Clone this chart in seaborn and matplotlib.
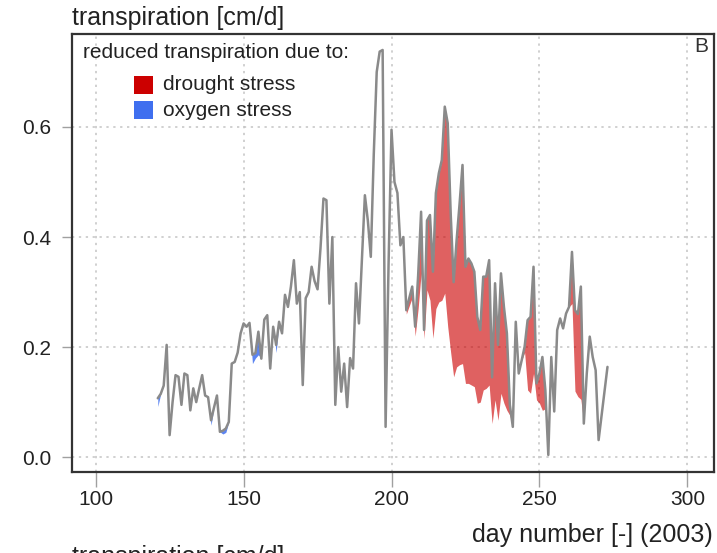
import numpy as np
import matplotlib
matplotlib.use("Agg")
import matplotlib.pyplot as plt
import seaborn as sns

# daily values, day 121 .. 273 (2003)
days = np.arange(121, 274)

# potential transpiration [cm/d] (grey line)
potential = [
    0.107, 0.115, 0.130, 0.204, 0.040, 0.100, 0.149, 0.146, 0.095, 0.152,   # 121-130
    0.149, 0.085, 0.125, 0.100, 0.125, 0.149, 0.112, 0.109, 0.067, 0.090,   # 131-140
    0.112, 0.046, 0.048, 0.052, 0.064, 0.170, 0.173, 0.190, 0.225, 0.243,   # 141-150
    0.237, 0.244, 0.186, 0.189, 0.228, 0.179, 0.250, 0.258, 0.161, 0.237,   # 151-160
    0.204, 0.246, 0.225, 0.295, 0.273, 0.310, 0.358, 0.279, 0.300, 0.131,   # 161-170
    0.289, 0.300, 0.346, 0.320, 0.305, 0.380, 0.470, 0.467, 0.279, 0.400,   # 171-180
    0.095, 0.200, 0.119, 0.170, 0.091, 0.180, 0.161, 0.316, 0.243, 0.360,   # 181-190
    0.476, 0.430, 0.364, 0.550, 0.700, 0.737, 0.740, 0.055, 0.350, 0.595,   # 191-200
    0.500, 0.480, 0.385, 0.400, 0.267, 0.289, 0.310, 0.237, 0.330, 0.446,   # 201-210
    0.231, 0.430, 0.440, 0.337, 0.480, 0.516, 0.540, 0.637, 0.607, 0.443,   # 211-220
    0.318, 0.394, 0.460, 0.531, 0.346, 0.361, 0.352, 0.337, 0.255, 0.231,   # 221-230
    0.328, 0.328, 0.358, 0.145, 0.316, 0.204, 0.334, 0.273, 0.225, 0.095,   # 231-240
    0.055, 0.246, 0.152, 0.176, 0.201, 0.249, 0.255, 0.346, 0.134, 0.152,   # 241-250
    0.182, 0.122, 0.004, 0.182, 0.083, 0.231, 0.252, 0.234, 0.261, 0.273,   # 251-260
    0.373, 0.267, 0.260, 0.310, 0.061, 0.152, 0.219, 0.182, 0.158, 0.031,   # 261-270
    0.075, 0.120, 0.164,                                                     # 271-273
]

# actual transpiration [cm/d]
actual = [
    0.092, 0.115, 0.130, 0.204, 0.040, 0.100, 0.149, 0.146, 0.095, 0.152,
    0.149, 0.085, 0.125, 0.100, 0.125, 0.149, 0.112, 0.109, 0.058, 0.090,
    0.112, 0.046, 0.042, 0.045, 0.064, 0.170, 0.173, 0.190, 0.225, 0.243,
    0.237, 0.244, 0.170, 0.180, 0.186, 0.179, 0.250, 0.258, 0.161, 0.237,
    0.190, 0.246, 0.225, 0.295, 0.273, 0.310, 0.358, 0.279, 0.300, 0.131,
    0.289, 0.300, 0.346, 0.320, 0.305, 0.380, 0.470, 0.467, 0.279, 0.400,
    0.095, 0.200, 0.119, 0.170, 0.091, 0.180, 0.161, 0.316, 0.243, 0.360,
    0.476, 0.430, 0.364, 0.550, 0.700, 0.737, 0.740, 0.055, 0.350, 0.595,
    0.500, 0.480, 0.385, 0.400, 0.260, 0.275, 0.290, 0.220, 0.270, 0.334,
    0.215, 0.304, 0.285, 0.216, 0.270, 0.282, 0.285, 0.298, 0.237, 0.190,
    0.146, 0.164, 0.168, 0.170, 0.134, 0.134, 0.131, 0.128, 0.098, 0.100,
    0.122, 0.125, 0.131, 0.061, 0.104, 0.067, 0.116, 0.098, 0.085, 0.076,
    0.055, 0.246, 0.152, 0.176, 0.190, 0.122, 0.116, 0.152, 0.104, 0.098,
    0.085, 0.088, 0.004, 0.182, 0.083, 0.231, 0.252, 0.234, 0.261, 0.273,
    0.279, 0.120, 0.110, 0.105, 0.061, 0.152, 0.219, 0.182, 0.158, 0.031,
    0.075, 0.120, 0.164,
]

x_ticks = [100, 150, 200, 250, 300]
y_ticks = [0.0, 0.2, 0.4, 0.6]
y_tick_labels = ["0.0", "0.2", "0.4", "0.6"]

drought_color = "#CC0000"
oxygen_color = "#3F6FEF"

sns.set_style("white")
plt.rcParams["font.family"] = ["Liberation Sans", "DejaVu Sans"]

fig = plt.figure(figsize=(7.17, 5.53), dpi=100)
ax = fig.add_axes([0.1004, 0.1465, 0.8954, 0.792])

potential = np.array(potential)
actual = np.array(actual)

# reduced transpiration: oxygen stress early season, drought stress later
ax.fill_between(days, actual, potential, where=days <= 200,
                color=oxygen_color, alpha=0.85, linewidth=0, zorder=2)
ax.fill_between(days, actual, potential, where=days >= 200,
                color=drought_color, alpha=0.62, linewidth=0, zorder=2)
sns.lineplot(x=days, y=potential, ax=ax, color="#8a8a8a", linewidth=1.8,
             zorder=3)

ax.set_xlim(92, 309)
ax.set_ylim(-0.027, 0.769)
ax.set_xticks(x_ticks)
ax.set_yticks(y_ticks)
ax.set_yticklabels(y_tick_labels)
ax.grid(True, color="#c4c4c4", linestyle=(0, (1.5, 3)), linewidth=1.1)
ax.set_axisbelow(True)

for sp in ax.spines.values():
    sp.set_color("#333333")
    sp.set_linewidth(1.6)

ax.tick_params(axis="x", direction="out", length=11, width=1, color="#a0a0a0",
               pad=2, labelsize=15, labelcolor="#222222", bottom=True)
ax.tick_params(axis="y", direction="out", length=7, width=1, color="#a0a0a0",
               pad=8, labelsize=15, labelcolor="#222222", left=True)
ax.set_xlabel("")
ax.set_ylabel("")

# titles and labels around the panel
fig.text(72 / 717, 1 - 18 / 553, "transpiration [cm/d]", fontsize=18,
         color="#222222", va="center", ha="left")
fig.text(713 / 717, 1 - 535 / 553, "day number [-] (2003)", fontsize=18,
         color="#222222", va="center", ha="right")
fig.text(701 / 717, 1 - 46 / 553, "B", fontsize=15, color="#333333",
         va="center", ha="center")
# top of the next panel's title, cut by the image border
fig.text(72 / 717, 1 - 545 / 553, "transpiration [cm/d]", fontsize=18,
         color="#222222", va="top", ha="left")

# legend
fig.text(83 / 717, 1 - 52 / 553, "reduced transpiration due to:",
         fontsize=15, color="#222222", va="center", ha="left")
leg_items = [("drought stress", drought_color, 85), ("oxygen stress", oxygen_color, 110)]
for label, col, yc in leg_items:
    fig.patches.append(plt.Rectangle((134 / 717, 1 - (yc + 9) / 553), 19 / 717, 18 / 553,
                                     transform=fig.transFigure, facecolor=col,
                                     edgecolor="none"))
    fig.text(163 / 717, 1 - yc / 553, label, fontsize=15, color="#222222",
             va="center", ha="left")

fig.savefig("out.png", dpi=100)
